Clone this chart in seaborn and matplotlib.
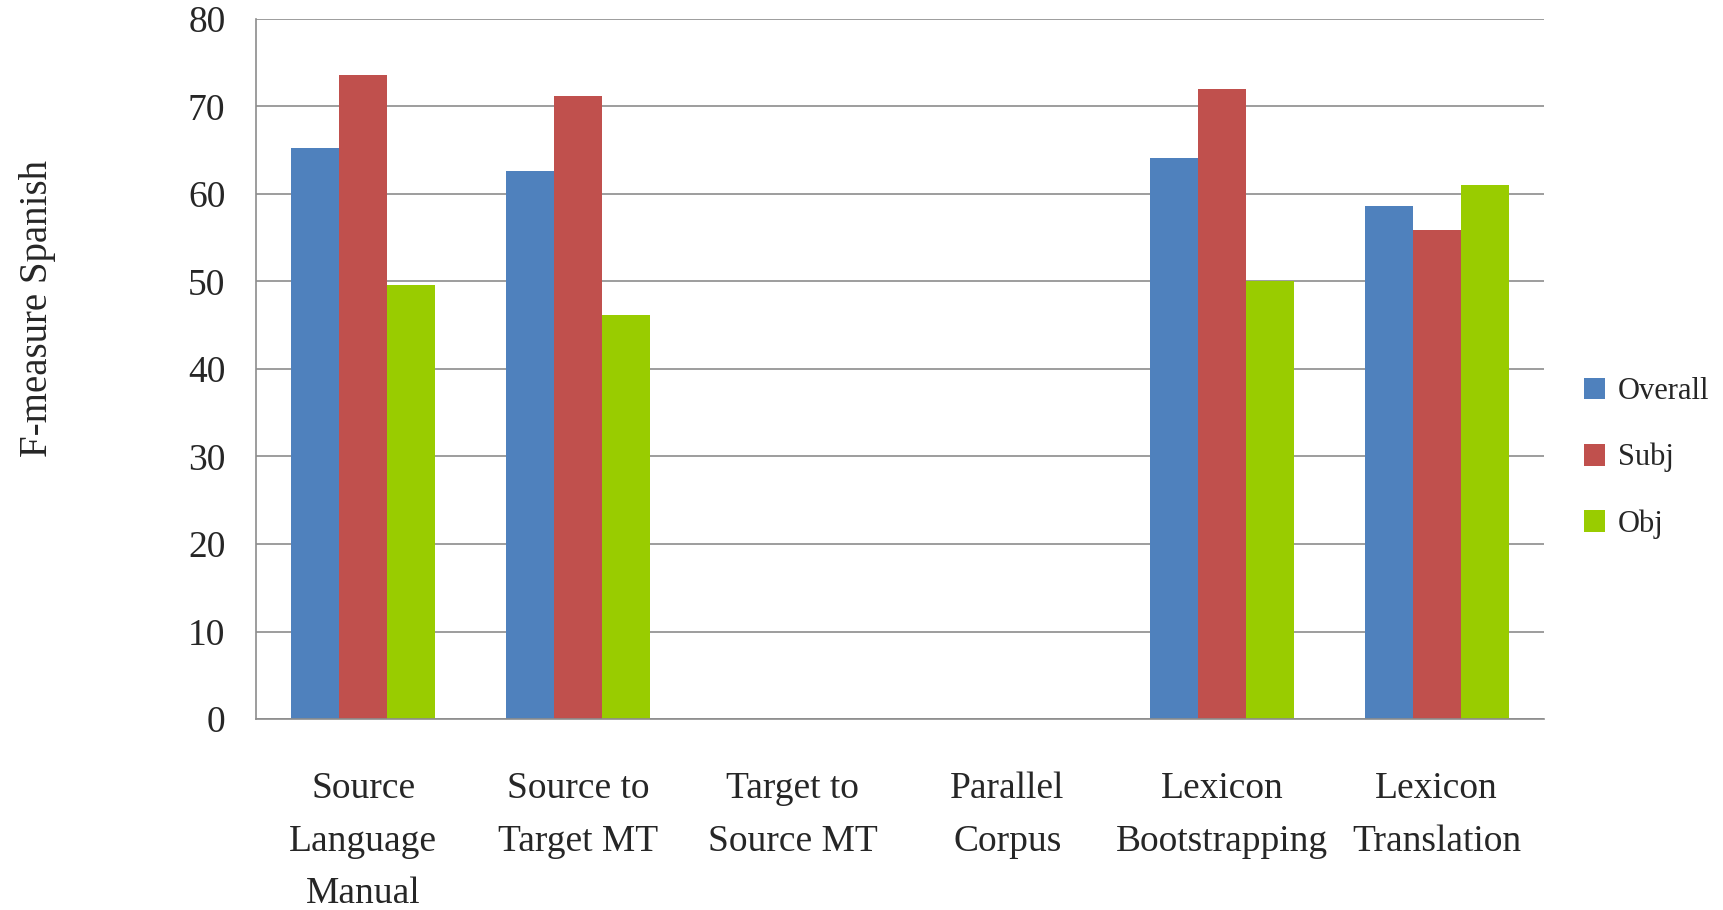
import numpy as np
import pandas as pd
import matplotlib
matplotlib.use("Agg")
import matplotlib.pyplot as plt
from matplotlib.ticker import MultipleLocator, FixedLocator
import seaborn as sns

# Methods compared and their F-measure scores for Spanish
methods = [
    "Source\nLanguage\nManual",
    "Source to\nTarget MT",
    "Target to\nSource MT",
    "Parallel\nCorpus",
    "Lexicon\nBootstrapping",
    "Lexicon\nTranslation",
]
series = ["Overall", "Subj", "Obj"]
overall = [65.3, 62.6, np.nan, np.nan, 64.1, 58.6]
subj = [73.6, 71.2, np.nan, np.nan, 72.0, 55.9]
obj = [49.6, 46.2, np.nan, np.nan, 50.0, 61.0]
colors = ["#4F81BD", "#C0504D", "#99CC00"]

df = pd.DataFrame({
    "method": methods * 3,
    "series": [s for s in series for _ in methods],
    "fmeasure": overall + subj + obj,
})

sns.set_style("white")
plt.rcParams["font.family"] = ["Liberation Serif", "DejaVu Serif"]

grid_color = "#8C8C8C"

fig = plt.figure(figsize=(17.23, 9.10), dpi=100)
ax = fig.add_axes([256 / 1723, 1 - 719 / 910, (1544 - 256) / 1723, (719 - 19) / 910])

sns.barplot(
    data=df, x="method", y="fmeasure", hue="series",
    order=methods, hue_order=series, palette=colors,
    width=0.67, saturation=1, errorbar=None, ax=ax, legend=True,
    linewidth=0,
)

ax.set_xlim(-0.5, len(methods) - 0.5)
ax.set_ylim(0, 80)
ax.yaxis.set_major_locator(MultipleLocator(10))
ax.set_axisbelow(True)
ax.yaxis.grid(True, color=grid_color, linewidth=1.2)
ax.xaxis.grid(False)

for side in ("top", "right"):
    ax.spines[side].set_visible(False)
for side in ("left", "bottom"):
    ax.spines[side].set_color(grid_color)
    ax.spines[side].set_linewidth(1.2)

# Category boundary ticks below the axis, labels centred between them
ax.xaxis.set_minor_locator(FixedLocator(np.arange(-0.5, len(methods), 1.0)))
ax.tick_params(axis="x", which="major", length=0, pad=38, labelsize=27)
ax.tick_params(axis="x", which="minor", length=9, width=1.2, color=grid_color, direction="out")
ax.tick_params(axis="y", which="major", length=10, width=1.2, color=grid_color,
               direction="out", labelsize=27, pad=12)
for lbl in ax.get_xticklabels():
    lbl.set_linespacing(1.68)
    lbl.set_verticalalignment("top")

ax.set_xlabel("")
ax.set_ylabel("F-measure Spanish", fontsize=28, labelpad=0)
ax.yaxis.set_label_coords(-0.155, 0.587)

handles, labels = ax.get_legend_handles_labels()
ax.get_legend().remove()
fig.legend(
    handles, labels, loc="center left",
    bbox_to_anchor=(1584 / 1723, 1 - 458 / 910),
    frameon=False, fontsize=22, handlelength=0.7, handleheight=0.7,
    handletextpad=0.4, labelspacing=1.2, borderpad=0, borderaxespad=0,
)

fig.savefig("out.png", dpi=100, facecolor="white")
